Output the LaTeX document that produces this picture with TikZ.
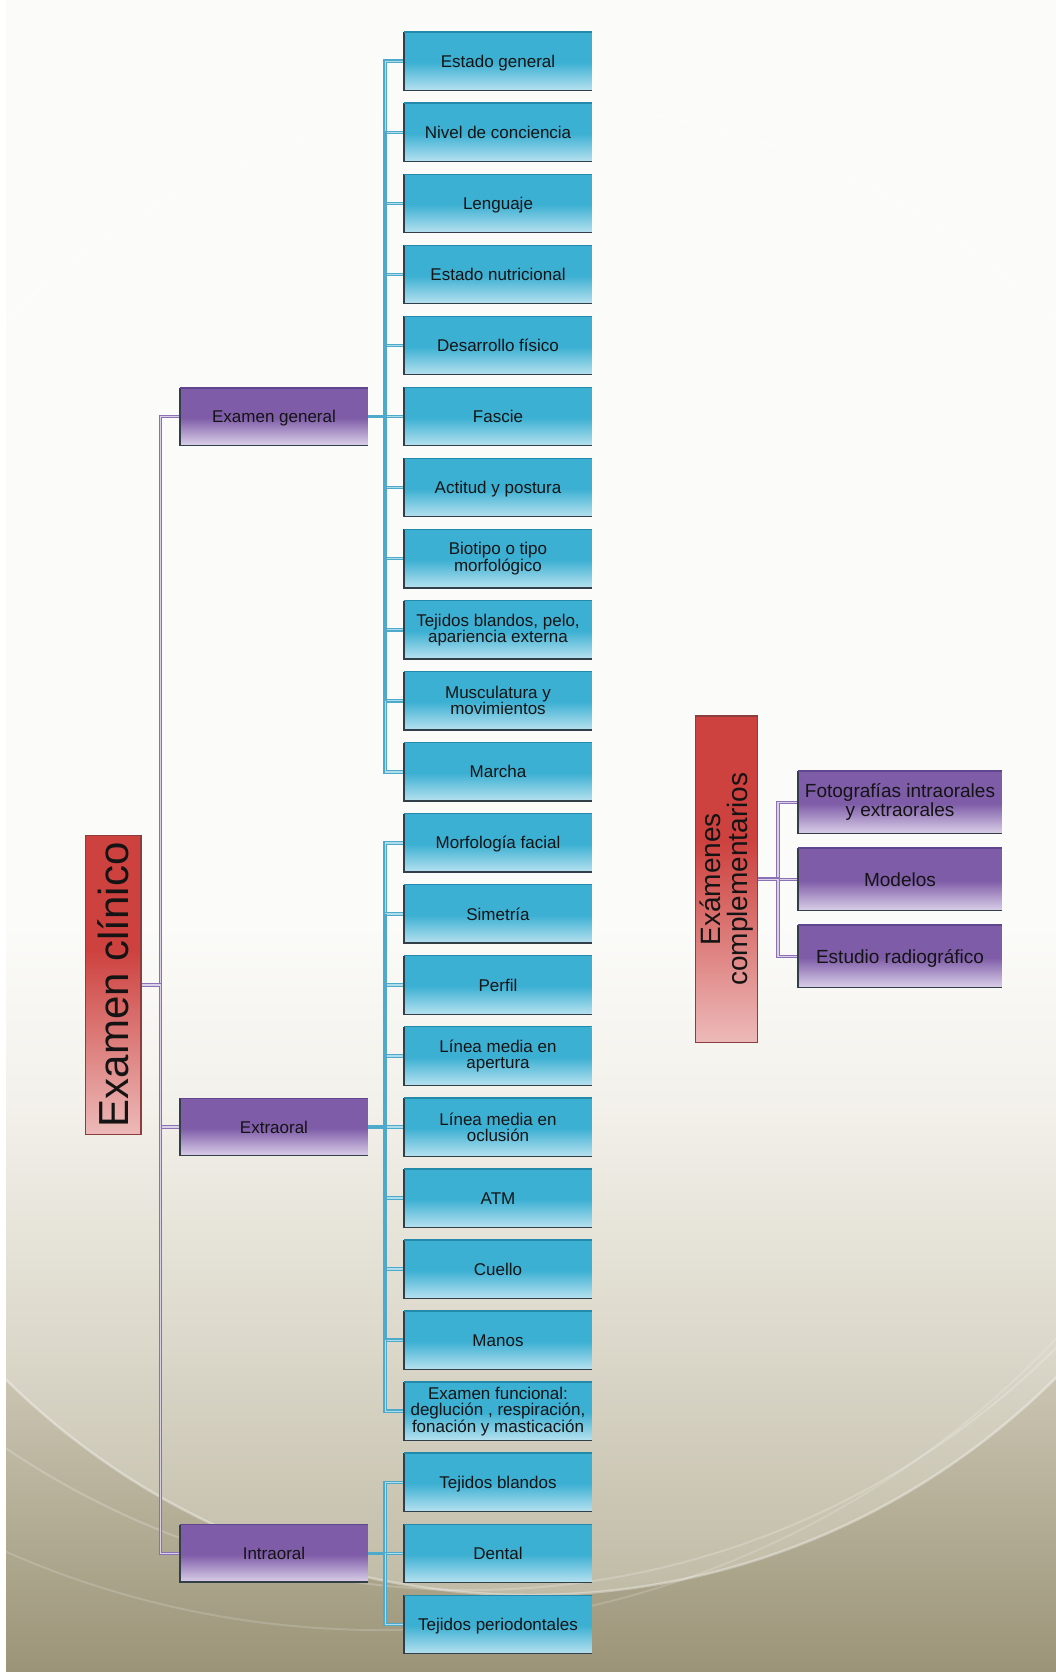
\documentclass[tikz,border=0pt]{standalone}
\usepackage{fontspec}
\setmainfont{Liberation Sans}
\usetikzlibrary{calc}
\pgfdeclarelayer{bg}
\pgfdeclarelayer{conn}
\pgfsetlayers{bg,conn,main}
\definecolor{bluetop}{RGB}{60,176,211}
\definecolor{bluebot}{RGB}{182,225,239}
\definecolor{purtop}{RGB}{126,92,168}
\definecolor{purbot}{RGB}{218,207,232}
\definecolor{redtop}{RGB}{205,65,62}
\definecolor{redbot}{RGB}{236,186,185}
\definecolor{redline}{RGB}{140,62,62}
\definecolor{edgedark}{RGB}{50,62,72}
\definecolor{bedge}{RGB}{36,138,172}
\definecolor{pedge}{RGB}{96,70,142}
\definecolor{bline}{RGB}{78,170,202}
\definecolor{bin}{RGB}{175,220,234}
\definecolor{pline}{RGB}{140,112,182}
\definecolor{pin}{RGB}{218,208,232}
\definecolor{txtc}{RGB}{20,20,20}
\definecolor{bgtop}{RGB}{251,251,249}
\definecolor{bglight}{RGB}{240,238,230}
\definecolor{bgmid}{RGB}{206,201,183}
\definecolor{bgbot}{RGB}{155,148,120}
\definecolor{clight}{RGB}{243,241,235}
\definecolor{cmid}{RGB}{219,215,201}
\definecolor{cbot}{RGB}{192,187,166}
\pgfdeclareverticalshading{bshade}{100bp}{color(0bp)=(bluebot); color(25bp)=(bluebot); color(49bp)=(bluetop); color(100bp)=(bluetop)}
\pgfdeclareverticalshading{pshade}{100bp}{color(0bp)=(purbot); color(25bp)=(purbot); color(49bp)=(purtop); color(100bp)=(purtop)}
\pgfdeclareverticalshading{rshade}{100bp}{color(0bp)=(redbot); color(25bp)=(redbot); color(56bp)=(redtop); color(100bp)=(redtop)}
\pgfdeclareverticalshading{bgshade}{100bp}{color(0bp)=(bgbot); color(25bp)=(bgbot); color(34.6bp)=(bgmid); color(42bp)=(bglight); color(48.5bp)=(bgtop); color(100bp)=(bgtop)}
\pgfdeclareverticalshading{cshade}{100bp}{color(0bp)=(cbot); color(25bp)=(cbot); color(33.2bp)=(cmid); color(41.6bp)=(clight); color(47.5bp)=(bgtop); color(100bp)=(bgtop)}
\tikzset{
  txt/.style={text=txtc, align=center, inner sep=1pt},
  oneline/.style={text height=12.2pt, text depth=0pt},
  bbox/.style={txt, shade, shading=bshade, minimum width=187.4pt, minimum height=58pt, font=\fontsize{17}{16}\selectfont},
  pbox/.style={txt, oneline, shade, shading=pshade, minimum width=187.4pt, minimum height=57pt, font=\fontsize{17}{16}\selectfont},
  cbox/.style={txt, shade, shading=pshade, minimum width=203.4pt, minimum height=62pt, font=\fontsize{19}{16.5}\selectfont},
  rbox/.style={shade, shading=rshade, draw=redline, line width=1.2pt, inner sep=0pt},
  bconn/.style={draw=bline, line width=1.1pt, double=bin, double distance=1.4pt},
  bsolid/.style={draw=bline, line width=3.6pt},
  pconn/.style={draw=pline, line width=1.1pt, double=pin, double distance=1.4pt},
  dedge/.style={draw=edgedark, line width=1.3pt},
  bt/.style={draw=bedge, line width=1.3pt},
  pt/.style={draw=pedge, line width=1.3pt}
}
\begin{document}
\begin{tikzpicture}[x=1pt,y=-1pt]
\useasboundingbox (0,0) rectangle (1056,1672);
\begin{pgfonlayer}{bg}
  \clip (0,0) rectangle (1056,1672);
  \shade[shading=bgshade] (0,0) rectangle (1056,1672);
  \shade[shading=cshade] (530,850) circle[radius=745];
  \draw[white, opacity=0.35, line width=2.5pt] (530,850) circle[radius=745];
  \draw[white, opacity=0.2, line width=2pt] (470,760) circle[radius=830];
  \draw[white, opacity=0.16, line width=2pt] (380,700) circle[radius=930];
  \fill[white] (0,0) rectangle (6,1672);
\end{pgfonlayer}

% level 2 / 3 boxes
\node[bbox, oneline] (b1) at (498,61.3) {Estado general};
\node[bbox, oneline] (b2) at (498,132.35) {Nivel de conciencia};
\node[bbox, oneline] (b3) at (498,203.4) {Lenguaje};
\node[bbox, oneline] (b4) at (498,274.45) {Estado nutricional};
\node[bbox, oneline] (b5) at (498,345.5) {Desarrollo físico};
\node[bbox, oneline] (b6) at (498,416.55) {Fascie};
\node[bbox, oneline] (b7) at (498,487.6) {Actitud y postura};
\node[bbox] (b8) at (498,558.65) {Biotipo o tipo\\morfológico};
\node[bbox] (b9) at (498,629.7) {Tejidos blandos, pelo,\\apariencia externa};
\node[bbox] (b10) at (498,700.75) {Musculatura y\\movimientos};
\node[bbox, oneline] (b11) at (498,771.8) {Marcha};
\node[bbox, oneline] (b12) at (498,842.85) {Morfología facial};
\node[bbox, oneline] (b13) at (498,913.9) {Simetría};
\node[bbox, oneline] (b14) at (498,984.95) {Perfil};
\node[bbox] (b15) at (498,1056.0) {Línea media en\\apertura};
\node[bbox] (b16) at (498,1127.05) {Línea media en\\oclusión};
\node[bbox, oneline] (b17) at (498,1198.1) {ATM};
\node[bbox, oneline] (b18) at (498,1269.15) {Cuello};
\node[bbox, oneline] (b19) at (498,1340.2) {Manos};
\node[bbox] (b20) at (498,1411.25) {Examen funcional:\\deglución , respiración,\\fonación y masticación};
\node[bbox, oneline] (b21) at (498,1482.3) {Tejidos blandos};
\node[bbox, oneline] (b22) at (498,1553.35) {Dental};
\node[bbox, oneline] (b23) at (498,1624.4) {Tejidos periodontales};

\node[pbox] (eg) at (274,416.55) {Examen general};
\node[pbox] (ex) at (274,1127.05) {Extraoral};
\node[pbox] (in) at (274,1553.35) {Intraoral};

\node[rbox, minimum width=55.7pt, minimum height=299pt] (ec) at (113.2,984.8) {};
\node[txt, rotate=90, font=\fontsize{42}{42}\selectfont] (ectext) at (ec.center) {Examen clínico};

\node[rbox, minimum width=62.4pt, minimum height=326.3pt] (xc) at (726.5,879.2) {};
\node[txt, rotate=90, font=\fontsize{28}{26.5}\selectfont] (xctext) at (xc.center) {Exámenes\\complementarios};

\node[cbox] (c1) at (900,802.3) {Fotografías intraorales\\y extraorales};
\node[cbox, text height=13.6pt, text depth=0pt] (c2) at (900,879.3) {Modelos};
\node[cbox, text height=13.6pt, text depth=0pt] (c3) at (900,956.3) {Estudio radiográfico};

% box edges
\foreach \i in {1,...,23}{
  \draw[dedge] (b\i.north west) -- (b\i.south west) -- (b\i.south east);
  \draw[bt] (b\i.north west) -- (b\i.north east);
}
\foreach \n in {eg,ex,in,c1,c2,c3}{
  \draw[dedge] (\n.north west) -- (\n.south west) -- (\n.south east);
  \draw[pt] (\n.north west) -- (\n.north east);
}

% connectors
\begin{pgfonlayer}{conn}
  \coordinate (teg) at ([xshift=17.3pt]eg.east);
  \coordinate (tex) at ([xshift=17.3pt]ex.east);
  \coordinate (tin) at ([xshift=17.3pt]in.east);
  \coordinate (tec) at ([xshift=19pt]ec.east);
  \coordinate (txc) at ([xshift=19.6pt]xc.east);
  \foreach \i in {1,...,11}{\draw[bconn] (eg.east) -- (teg) |- (b\i.west);}
  \foreach \i in {12,...,20}{\draw[bconn] (ex.east) -- (tex) |- (b\i.west);}
  \foreach \i in {21,...,23}{\draw[bconn] (in.east) -- (tin) |- (b\i.west);}
  \draw[bsolid] (eg.east) -- (teg);
  \draw[bsolid] (ex.east) -- (tex);
  \draw[bsolid] (in.east) -- (tin);
  \draw[bsolid] (teg |- b2.west) -- (teg |- b10.west);
  \draw[bsolid] (tex |- b13.west) -- (tex |- b19.west);
  \foreach \n in {eg,ex,in}{\draw[pconn] (ec.east) -- (tec) |- (\n.west);}
  \foreach \n in {c1,c2,c3}{\draw[pconn] (xc.east) -- (txc) |- (\n.west);}
\end{pgfonlayer}
\end{tikzpicture}
\end{document}
